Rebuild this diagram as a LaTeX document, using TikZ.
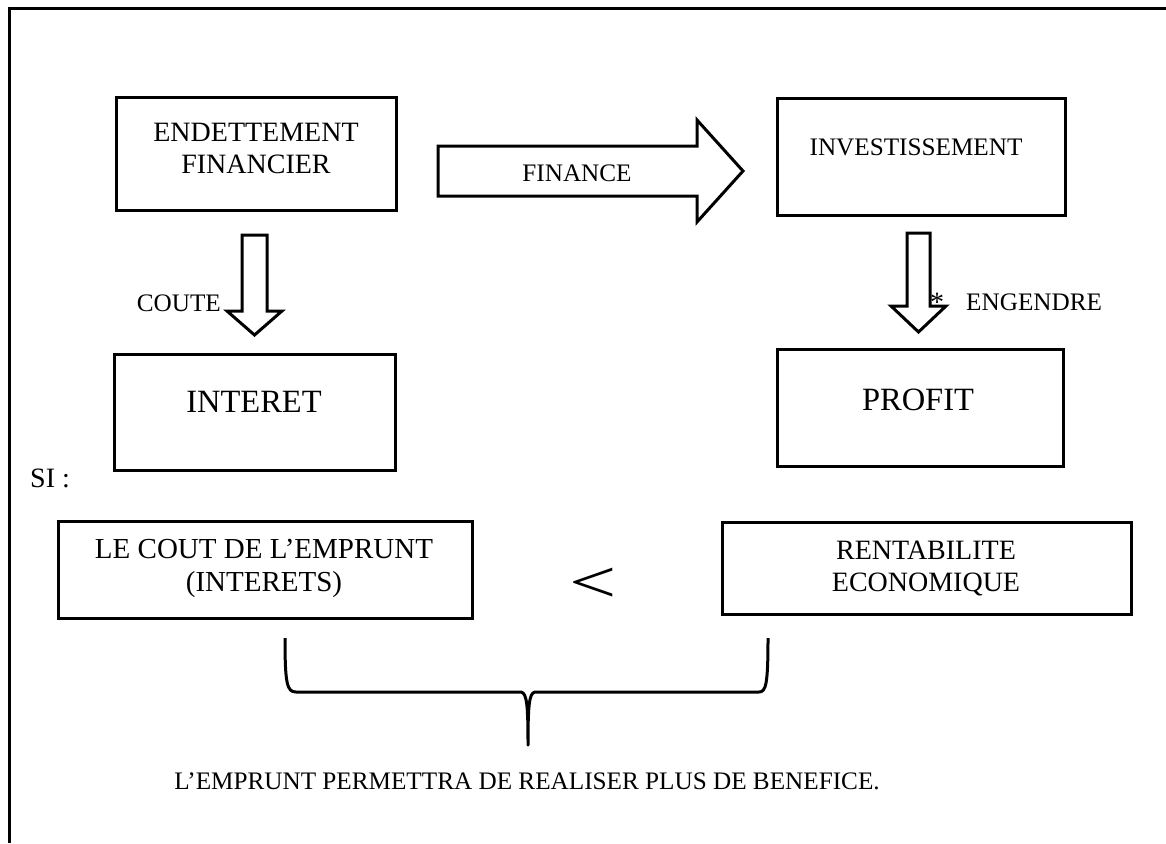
\documentclass[tikz,border=0pt]{standalone}
\usepackage{fontspec}
\setmainfont{Liberation Serif}
\begin{document}
\begin{tikzpicture}[x=1pt,y=-1pt,
  box/.style={draw,line width=3pt,rectangle,inner sep=0pt},
  big/.style={font=\fontsize{28}{32}\selectfont,align=center,inner sep=0pt},
  huge/.style={font=\fontsize{32.5}{36}\selectfont,align=center,inner sep=0pt},
  small/.style={font=\fontsize{25.2}{29}\selectfont,inner sep=0pt},
  blockarrow/.style={draw,line width=3pt,fill=white,line join=miter,miter limit=4}]
\useasboundingbox (0,0) rectangle (1166,843);
% frame
\draw[line width=3pt] (9,843) -- (9,8.5) -- (1166,8.5);
% boxes
\node[box,minimum width=280pt,minimum height=113pt] (endet) at (256,153.5) {};
\node[box,minimum width=288pt,minimum height=117pt] (invest) at (921,156.5) {};
\node[box,minimum width=281pt,minimum height=116pt] (interet) at (254.5,412) {};
\node[box,minimum width=286pt,minimum height=117pt] (profit) at (920,407.5) {};
\node[box,minimum width=414pt,minimum height=97pt] (cout) at (265,569.5) {};
\node[box,minimum width=409pt,minimum height=92pt] (renta) at (926.5,568) {};
% texts
\node[big] (tendet) at (256,148) {ENDETTEMENT\\FINANCIER};
\node[small] (tinvest) at (916,147) {INVESTISSEMENT};
\node[huge] (tinteret) at (254,402) {INTERET};
\node[huge] (tprofit) at (918,400) {PROFIT};
\node[big,font=\fontsize{29}{33}\selectfont] (tcout) at (264,568) {LE COUT DE L’EMPRUNT\\(INTERETS)};
\node[big] (trenta) at (926,569) {RENTABILITE\\ECONOMIQUE};
\node[big,anchor=west] (si) at (30,478) {SI :};
\node[font=\fontsize{60}{60}\selectfont,inner sep=0pt,xscale=1.4] (lt) at (593,585) {<};
\node[small] (concl) at (527,781) {L’EMPRUNT PERMETTRA DE REALISER PLUS DE BENEFICE.};
% block arrows
\draw[blockarrow] (438,146) -- (697,146) -- (697,120) -- (743,171) -- (697,222) -- (697,196) -- (438,196) -- cycle;
\node[small] (finance) at (577,173) {FINANCE};
\draw[blockarrow] (242,235) -- (267,235) -- (267,311) -- (282,311) -- (254.5,335) -- (227,311) -- (242,311) -- cycle;
\node[small,anchor=east] (coute) at (221,303) {COUTE};
\draw[blockarrow] (907,233) -- (930,233) -- (930,306) -- (946,306) -- (918.5,332) -- (891,306) -- (907,306) -- cycle;
\node[font=\fontsize{28}{28}\selectfont,inner sep=0pt] (ast) at (937,302) {*};
\node[small,anchor=west] (engendre) at (966,302) {ENGENDRE};
% brace
\coordinate (bl) at (285,638);
\coordinate (br) at (768,638);
\coordinate (bm) at (528,745);
\draw[line width=3pt,line join=round]
  (bl) .. controls (285,684) and (287,692) .. (296,692) -- (521,692)
  .. controls (527,693) and (528,706) .. (bm)
  .. controls (528,706) and (529,693) .. (535,692) -- (759,692)
  .. controls (766,692) and (768,684) .. (br);
\end{tikzpicture}
\end{document}
